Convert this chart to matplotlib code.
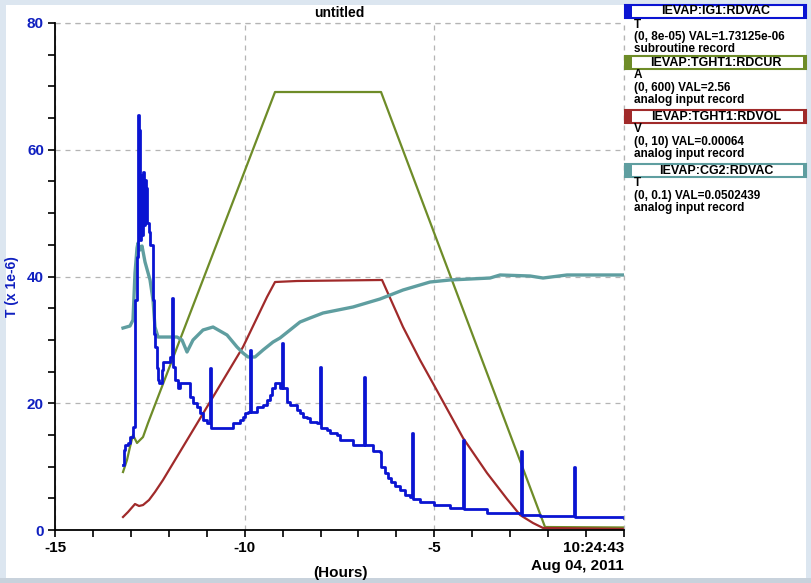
import matplotlib
matplotlib.use("Agg")
import matplotlib.pyplot as plt
from matplotlib.patches import Rectangle
from matplotlib.ticker import MultipleLocator

plt.rcParams['font.family'] = ['Liberation Sans Narrow', 'Liberation Sans', 'DejaVu Sans']

# all traces are drawn against the blue axis (0..80)
# IEVAP:IG1:RDVAC  (T x 1e-6), drawn as steps
ig1_hours = [-13.207, -13.19, -13.155, -13.075, -13.023, -12.944, -12.891, -12.838,
             -12.812, -12.785, -12.759, -12.733, -12.706, -12.680, -12.654, -12.627,
             -12.601, -12.575, -12.522, -12.495, -12.416, -12.390, -12.364, -12.320,
             -12.284, -12.258, -12.179, -12.153, -11.968, -11.915, -11.895, -11.889,
             -11.836, -11.757, -11.704, -11.441, -11.362, -11.256, -11.177, -11.098,
             -10.993, -10.914, -10.894, -10.307, -10.123, -10.044, -9.991, -9.912,
             -9.859, -9.839, -9.674, -9.516, -9.411, -9.332, -9.279, -9.200,
             -9.068, -9.015, -8.995, -8.883, -8.804, -8.620, -8.541, -8.462,
             -8.356, -8.277, -8.093, -8.013, -7.993, -7.829, -7.750, -7.565,
             -7.486, -7.144, -6.853, -6.833, -6.616, -6.432, -6.405, -6.300,
             -6.221, -6.130, -6.036, -5.904, -5.772, -5.641, -5.588, -5.568,
             -5.377, -5.008, -4.600, -4.243, -4.223, -3.611, -2.714, -2.694,
             -2.213, -1.317, -1.297, -0.620, 0.0]
ig1_vals = [10.3, 12.6, 13.4, 13.7, 14.7, 16.3, 36.3, 43.1,
            65.5, 63.1, 45.8, 56.0, 46.5, 56.5, 48.1, 55.2,
            54.0, 48.4, 47.0, 45.0, 36.3, 31.0, 28.9, 25.5,
            23.7, 23.2, 25.2, 26.5, 27.3, 36.6, 27.9, 25.7,
            23.7, 22.4, 23.2, 21.0, 20.0, 19.4, 18.5, 17.4,
            16.9, 25.6, 16.1, 16.9, 17.4, 17.8, 18.5, 18.6,
            28.4, 18.6, 19.4, 19.7, 20.5, 21.3, 22.4, 23.2,
            22.4, 29.5, 22.4, 20.2, 19.7, 18.9, 18.5, 17.8,
            17.7, 17.0, 16.9, 25.7, 16.1, 15.8, 15.3, 15.0,
            14.2, 13.4, 24.1, 13.4, 12.5, 12.3, 9.9, 9.0,
            8.2, 7.5, 6.9, 6.3, 5.5, 5.2, 15.3, 4.9,
            4.4, 3.9, 3.5, 14.2, 3.3, 2.7, 12.5, 2.3,
            2.2, 9.9, 2.05, 2.0, 1.9]

# IEVAP:TGHT1:RDCUR  (0..600 A mapped to 0..80)
cur_hours = [-13.207, -13.102, -13.023, -12.944, -12.838, -12.759, -12.680, -12.548,
             -9.200, -6.405, -2.082, 0.0]
cur_vals = [9.15, 11.05, 13.10, 14.99, 13.73, 14.20, 14.67, 16.88,
            69.11, 69.11, 0.47, 0.40]

# IEVAP:TGHT1:RDVOL  (0..10 V mapped to 0..80)
vol_hours = [-13.207, -13.075, -12.891, -12.785, -12.680, -12.522, -12.364, -12.153,
             -10.914, -10.044, -9.411, -9.200, -8.620, -6.379, -5.825, -5.377,
             -4.982, -4.243, -3.611, -3.083, -2.740, -2.398, -2.134, 0.0]
vol_vals = [2.05, 2.84, 4.10, 3.79, 3.94, 4.73, 6.00, 7.89,
            20.20, 28.88, 36.77, 39.13, 39.29, 39.45, 32.03, 26.82,
            22.56, 14.52, 8.99, 4.89, 2.37, 1.10, 0.32, 0.16]

# IEVAP:CG2:RDVAC  (0..0.1 T mapped to 0..80)
cg2_hours = [-13.207, -13.023, -12.944, -12.891, -12.838, -12.812, -12.759, -12.706,
             -12.627, -12.495, -12.416, -12.364, -12.284, -11.783, -11.652, -11.520,
             -11.362, -11.098, -10.834, -10.465, -10.202, -10.044, -9.912, -9.727,
             -9.516, -9.253, -9.068, -8.804, -8.541, -8.277, -7.934, -7.143,
             -6.432, -5.825, -5.113, -4.586, -3.531, -3.268, -2.477, -2.134,
             -1.501, 0.0]
cg2_vals = [31.87, 32.19, 33.14, 40.55, 44.50, 45.29, 44.18, 44.81,
            42.29, 39.45, 36.29, 32.03, 30.45, 30.45, 29.98, 28.09,
            29.98, 31.56, 32.03, 30.77, 28.88, 27.93, 27.30, 27.30,
            28.40, 29.66, 30.30, 31.56, 32.82, 33.45, 34.24, 35.19,
            36.45, 37.87, 39.13, 39.45, 39.76, 40.24, 40.08, 39.76,
            40.24, 40.24]

x_ticks = [-15, -10, -5, 0]
x_ticklabels = ['-15', '-10', '-5', '10:24:43']

blue = '#0a14d2'
green = '#6e8c28'
red = '#a02a2a'
teal = '#5f9ea0'

legend_names = ['IEVAP:IG1:RDVAC', 'IEVAP:TGHT1:RDCUR', 'IEVAP:TGHT1:RDVOL', 'IEVAP:CG2:RDVAC']
legend_lines = [['T', '(0, 8e-05) VAL=1.73125e-06', 'subroutine record'],
                ['A', '(0, 600) VAL=2.56', 'analog input record'],
                ['V', '(0, 10) VAL=0.00064', 'analog input record'],
                ['T', '(0, 0.1) VAL=0.0502439', 'analog input record']]
legend_colors = [blue, green, red, teal]

W, H = 811, 583
fig = plt.figure(figsize=(W / 100, H / 100), dpi=100)
fig.patch.set_facecolor('white')

# light frame around the window (behind everything else)
frame = '#dce6f0'
fig.add_artist(Rectangle((0, 0), 6 / W, 1, transform=fig.transFigure, color=frame, lw=0, zorder=-5))
fig.add_artist(Rectangle((0, 1 - 5 / H), 1, 5 / H, transform=fig.transFigure, color=frame, lw=0, zorder=-5))
fig.add_artist(Rectangle((1 - 5 / W, 0), 5 / W, 1, transform=fig.transFigure, color=frame, lw=0, zorder=-5))
fig.add_artist(Rectangle((0, 0), 1, 5 / H, transform=fig.transFigure, color='#c8d2dc', lw=0, zorder=-5))

ax = fig.add_axes([55 / W, 1 - 530 / H, 569 / W, 507 / H])

ax.plot(cur_hours, cur_vals, color=green, lw=1.6)
ax.plot(vol_hours, vol_vals, color=red, lw=1.6)
ax.plot(cg2_hours, cg2_vals, color=teal, lw=2.4)
ax.plot(ig1_hours, ig1_vals, color=blue, lw=2.0, drawstyle='steps-post')

ax.set_xlim(-15, 0)
ax.set_ylim(0, 80)
ax.set_xticks(x_ticks)
ax.set_xticklabels(x_ticklabels)
ax.xaxis.set_minor_locator(MultipleLocator(1))
ax.yaxis.set_major_locator(MultipleLocator(20))
ax.yaxis.set_minor_locator(MultipleLocator(5))

ax.grid(True, which='major', color='#b4b4b4', linestyle=(0, (4, 4)), lw=0.9)
ax.spines['top'].set_visible(False)
ax.spines['right'].set_visible(False)
ax.spines['left'].set_linewidth(1.3)
ax.spines['bottom'].set_linewidth(1.3)
ax.axhline(80, color='#b4b4b4', linestyle=(0, (4, 4)), lw=0.9, clip_on=False)
ax.axvline(0, color='#b4b4b4', linestyle=(0, (4, 4)), lw=0.9, clip_on=False)

ax.tick_params(which='both', direction='out', length=5, width=1.2, pad=3)
ax.tick_params(axis='y', labelcolor='#1020c0', labelsize=11)
ax.tick_params(axis='x', labelcolor='black', labelsize=11)
for lab in ax.get_xticklabels() + ax.get_yticklabels():
    lab.set_fontweight('bold')
ax.get_xticklabels()[-1].set_horizontalalignment('right')

ax.set_ylabel('T (x 1e-6)', color='#1020c0', fontsize=10, fontweight='bold')
ax.yaxis.set_label_coords(-36 / 569, 0.48)
ax.set_title('untitled', fontsize=10, fontweight='bold', pad=4)
fig.text(624 / W, 1 - 566 / H, 'Aug 04, 2011', ha='right', va='center',
         fontsize=11, fontweight='bold')
fig.text(340 / W, 1 - 573 / H, '(Hours)', ha='center', va='center',
         fontsize=11, fontweight='bold')

# legend panel on the right
box_tops = [5, 56, 110, 164]
for top, name, lines, col in zip(box_tops, legend_names, legend_lines, legend_colors):
    fig.add_artist(Rectangle((625 / W, 1 - (top + 13) / H), 181 / W, 13 / H,
                             transform=fig.transFigure, facecolor='white',
                             edgecolor=col, lw=1.5))
    fig.add_artist(Rectangle((625 / W, 1 - (top + 13) / H), 7 / W, 13 / H,
                             transform=fig.transFigure, color=col, lw=0))
    fig.add_artist(Rectangle((803 / W, 1 - (top + 13) / H), 3 / W, 13 / H,
                             transform=fig.transFigure, color=col, lw=0))
    fig.text(716 / W, 1 - (top + 6.5) / H, name, ha='center', va='center',
             fontsize=9, fontweight='bold')
    for i, line in enumerate(lines):
        fig.text(634 / W, 1 - (top + 19.5 + 12.2 * i) / H, line, ha='left', va='center',
                 fontsize=8.5, fontweight='bold')

fig.savefig('out.png', dpi=100)
